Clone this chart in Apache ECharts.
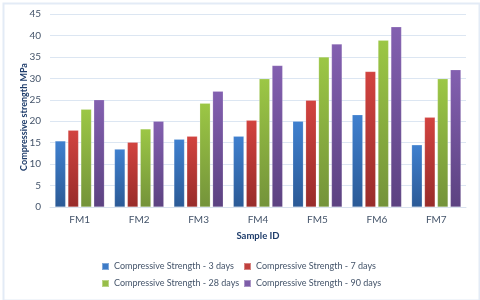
<!DOCTYPE html>
<html><head><meta charset="utf-8">
<script src="https://cdn.jsdelivr.net/npm/echarts@6/dist/echarts.min.js"></script>
<style>html,body{margin:0;padding:0;background:#fff}#c{width:480px;height:300px}</style>
</head><body><div id="c"></div>
<script>
const categories = ['FM1','FM2','FM3','FM4','FM5','FM6','FM7'];
const seriesNames = ['Compressive Strength - 3 days','Compressive Strength - 7 days','Compressive Strength - 28 days','Compressive Strength - 90 days'];
const days3  = [15.4, 13.5, 15.8, 16.5, 20.0, 21.5, 14.5];
const days7  = [17.9, 15.1, 16.5, 20.2, 24.9, 31.6, 20.9];
const days28 = [22.8, 18.2, 24.2, 29.9, 35.0, 38.9, 29.9];
const days90 = [25.0, 20.0, 27.0, 33.0, 38.0, 42.0, 32.0];
const yTicks = [0,5,10,15,20,25,30,35,40,45];

const values = [days3, days7, days28, days90];
const colors = [
  ['#3f80cf','#2b5a96','#3d7bc7'],
  ['#d2433f','#982c2a','#c0403d'],
  ['#9cc745','#74933a','#97bd48'],
  ['#8360b0','#5c4281','#7d5ca8']
];
const font = 'Lato, "Open Sans", sans-serif';
const txt = '#44546a';
const legendText = {color:txt,fontFamily:font,fontSize:9};
const legendCol = (left, idx) => ({left:left,top:257,orient:'vertical',itemWidth:7,itemHeight:7,itemGap:8,icon:'rect',
  textStyle:legendText,
  data:idx.map(i=>({name:seriesNames[i],itemStyle:{color:colors[i][2]}}))});
const chart = echarts.init(document.getElementById('c'), null, {renderer:'canvas'});
chart.setOption({
  animation:false,
  backgroundColor:'#fff',
  graphic:[
    {type:'rect',left:1,top:1,shape:{width:476,height:297},style:{fill:'none',stroke:'#e3ebf6',lineWidth:2},z:-1,silent:true},
    {type:'text',x:24,y:117,rotation:Math.PI/2,style:{text:'Compressive strength MPa',fill:'#1f3d6b',font:'bold 9px '+font,align:'center',verticalAlign:'middle'}}
  ],
  grid:{left:50,right:14,top:14,bottom:93,containLabel:false},
  xAxis:{type:'category',data:categories,
    axisLine:{lineStyle:{color:'#d9e2ee',width:1}},axisTick:{show:false},
    axisLabel:{color:txt,fontFamily:font,fontSize:10,margin:8},
    name:'Sample ID',nameLocation:'middle',nameGap:24,
    nameTextStyle:{color:'#1f3d6b',fontFamily:font,fontSize:9.5,fontWeight:'bold'}},
  yAxis:{type:'value',min:yTicks[0],max:yTicks[yTicks.length-1],interval:5,
    axisLine:{show:false},axisTick:{show:false},
    splitLine:{lineStyle:{color:'#dce6f2',width:1}},
    axisLabel:{color:txt,fontFamily:font,fontSize:10,margin:9}},
  legend:[legendCol(96,[0,2]), legendCol(238,[1,3])],
  series: values.map((v,i)=>({
    name:seriesNames[i],type:'bar',data:v,
    barGap:'22%',barCategoryGap:'17%',
    itemStyle:{color:new echarts.graphic.LinearGradient(0,0,0,1,[{offset:0,color:colors[i][0]},{offset:1,color:colors[i][1]}]),
      borderColor:'rgba(255,255,255,0.35)',borderWidth:0.5},
  }))
});
</script></body></html>
